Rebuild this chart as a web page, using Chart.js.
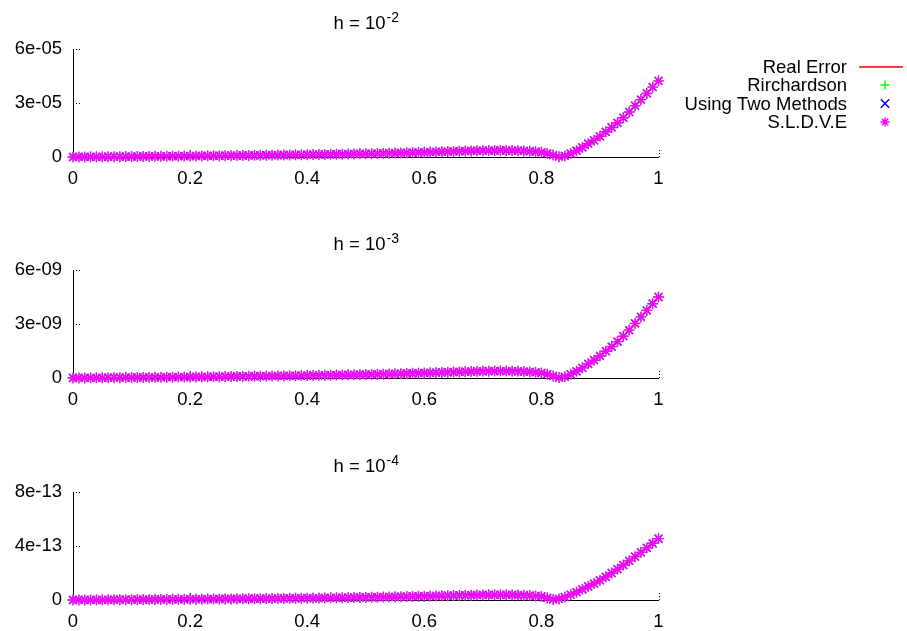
<!DOCTYPE html>
<html>
<head>
<meta charset="utf-8">
<script src="https://cdn.jsdelivr.net/npm/chart.js@4.4.0/dist/chart.umd.min.js"></script>
<style>
  html, body { margin: 0; padding: 0; background: #fff; }
  #wrap { position: relative; width: 907px; height: 631px; }
  #wrap canvas { position: absolute; left: 0; top: 0; }
</style>
</head>
<body>
<div id="wrap">
  <canvas id="c1" width="907" height="631"></canvas>
  <canvas id="c2" width="907" height="631"></canvas>
  <canvas id="c3" width="907" height="631"></canvas>
</div>
<script>
// grid points on [0, 1]
const xs = [
  0.00, 0.01, 0.02, 0.03, 0.04, 0.05, 0.06, 0.07, 0.08, 0.09, 0.10,
  0.11, 0.12, 0.13, 0.14, 0.15, 0.16, 0.17, 0.18, 0.19, 0.20,
  0.21, 0.22, 0.23, 0.24, 0.25, 0.26, 0.27, 0.28, 0.29, 0.30,
  0.31, 0.32, 0.33, 0.34, 0.35, 0.36, 0.37, 0.38, 0.39, 0.40,
  0.41, 0.42, 0.43, 0.44, 0.45, 0.46, 0.47, 0.48, 0.49, 0.50,
  0.51, 0.52, 0.53, 0.54, 0.55, 0.56, 0.57, 0.58, 0.59, 0.60,
  0.61, 0.62, 0.63, 0.64, 0.65, 0.66, 0.67, 0.68, 0.69, 0.70,
  0.71, 0.72, 0.73, 0.74, 0.75, 0.76, 0.77, 0.78, 0.79, 0.80,
  0.81, 0.82, 0.83, 0.84, 0.85, 0.86, 0.87, 0.88, 0.89, 0.90,
  0.91, 0.92, 0.93, 0.94, 0.95, 0.96, 0.97, 0.98, 0.99, 1.00
];

// error for h = 1e-2, in units of 1e-5
const errH2 = [
  0.000, 0.002, 0.004, 0.007, 0.009, 0.011, 0.014, 0.016, 0.019, 0.021, 0.024,
  0.027, 0.029, 0.032, 0.035, 0.038, 0.041, 0.044, 0.047, 0.050, 0.053,
  0.056, 0.059, 0.063, 0.066, 0.069, 0.073, 0.076, 0.080, 0.083, 0.087,
  0.091, 0.095, 0.099, 0.103, 0.107, 0.111, 0.115, 0.120, 0.124, 0.129,
  0.133, 0.138, 0.143, 0.148, 0.153, 0.158, 0.163, 0.168, 0.174, 0.179,
  0.185, 0.193, 0.201, 0.209, 0.217, 0.226, 0.235, 0.244, 0.253, 0.262,
  0.271, 0.281, 0.290, 0.300, 0.309, 0.318, 0.327, 0.335, 0.343, 0.350,
  0.356, 0.360, 0.362, 0.361, 0.357, 0.349, 0.336, 0.318, 0.294, 0.262,
  0.200, 0.110, 0.020, 0.060, 0.190, 0.350, 0.530, 0.740, 0.930, 1.150,
  1.400, 1.640, 1.900, 2.180, 2.500, 2.850, 3.190, 3.530, 3.880, 4.230
];

// error for h = 1e-3, in units of 1e-9
const errH3 = [
  0.000, 0.002, 0.004, 0.007, 0.010, 0.012, 0.015, 0.017, 0.020, 0.023, 0.026,
  0.029, 0.031, 0.034, 0.037, 0.040, 0.044, 0.047, 0.050, 0.053, 0.056,
  0.060, 0.063, 0.067, 0.070, 0.074, 0.078, 0.081, 0.085, 0.089, 0.093,
  0.097, 0.101, 0.105, 0.110, 0.114, 0.118, 0.123, 0.128, 0.132, 0.137,
  0.142, 0.147, 0.152, 0.157, 0.163, 0.168, 0.174, 0.179, 0.185, 0.191,
  0.197, 0.205, 0.214, 0.222, 0.231, 0.240, 0.250, 0.260, 0.269, 0.279,
  0.289, 0.299, 0.309, 0.319, 0.329, 0.338, 0.348, 0.357, 0.365, 0.372,
  0.379, 0.383, 0.385, 0.384, 0.380, 0.371, 0.357, 0.338, 0.313, 0.279,
  0.213, 0.117, 0.021, 0.064, 0.202, 0.372, 0.564, 0.787, 0.990, 1.224,
  1.490, 1.745, 2.022, 2.320, 2.660, 3.032, 3.394, 3.756, 4.128, 4.500
];

// error for h = 1e-4, in units of 1e-13
const errH4 = [
  0.000, 0.002, 0.005, 0.007, 0.010, 0.012, 0.015, 0.018, 0.020, 0.023, 0.026,
  0.029, 0.032, 0.035, 0.038, 0.041, 0.044, 0.047, 0.050, 0.054, 0.057,
  0.060, 0.064, 0.067, 0.071, 0.074, 0.078, 0.082, 0.086, 0.089, 0.093,
  0.097, 0.101, 0.106, 0.110, 0.114, 0.119, 0.123, 0.128, 0.133, 0.138,
  0.142, 0.147, 0.153, 0.158, 0.163, 0.169, 0.174, 0.180, 0.186, 0.192,
  0.198, 0.206, 0.215, 0.224, 0.233, 0.242, 0.252, 0.262, 0.271, 0.281,
  0.291, 0.301, 0.311, 0.321, 0.331, 0.341, 0.350, 0.359, 0.367, 0.374,
  0.380, 0.384, 0.385, 0.383, 0.377, 0.367, 0.352, 0.331, 0.304, 0.260,
  0.150, 0.040, 0.080, 0.220, 0.390, 0.580, 0.790, 1.000, 1.220, 1.450,
  1.720, 2.000, 2.290, 2.590, 2.900, 3.210, 3.530, 3.860, 4.200, 4.550
];

const xTicks = [0, 0.2, 0.4, 0.6, 0.8, 1];
const xLabels = ['0', '0.2', '0.4', '0.6', '0.8', '1'];

const yTicksH2 = [0, 3e-5, 6e-5];
const yLabelsH2 = ['0', '3e-05', '6e-05'];
const yTicksH3 = [0, 3e-9, 6e-9];
const yLabelsH3 = ['0', '3e-09', '6e-09'];
const yTicksH4 = [0, 4e-13, 8e-13];
const yLabelsH4 = ['0', '4e-13', '8e-13'];

const seriesNames = ['Real Error', 'Rirchardson', 'Using Two Methods', 'S.L.D.V.E'];
const seriesColors = ['#ff0000', '#00ff00', '#0000ff', '#ff00ff'];
const seriesMarks = [false, 'cross', 'crossRot', 'star'];
// crossRot arms are shorter, so it gets a larger radius in the key
const markRadius = [0, 5, 5.5, 5.5];
const keyRadius = [0, 4.5, 6, 4.5];

const FONT = '"Liberation Sans", Arial, sans-serif';
const FS = 18.5;
const W = 907, H = 631;
const LEFT = 73, RIGHT = 658.5;

// short inward tic marks, dotted like the axes
const ticMarks = {
  id: 'ticMarks',
  beforeDatasetsDraw(chart) {
    const { ctx, chartArea: a, scales: { x, y } } = chart;
    ctx.save();
    ctx.strokeStyle = '#000';
    ctx.lineWidth = 1;
    ctx.setLineDash([1, 2]);
    ctx.beginPath();
    y.ticks.forEach(t => {
      const py = Math.round(y.getPixelForValue(t.value)) + 0.5;
      ctx.moveTo(a.left, py);
      ctx.lineTo(a.left + 9, py);
    });
    x.ticks.forEach(t => {
      const px = Math.round(x.getPixelForValue(t.value)) + 0.5;
      ctx.moveTo(px, a.bottom);
      ctx.lineTo(px, a.bottom - 9);
    });
    ctx.stroke();
    ctx.restore();
  }
};

// "h = 10^-n" above each panel
const hTitle = {
  id: 'hTitle',
  afterDraw(chart, args, opts) {
    const { ctx, chartArea: a } = chart;
    const main = 'h = 10';
    ctx.save();
    ctx.fillStyle = '#000';
    ctx.textBaseline = 'alphabetic';
    ctx.textAlign = 'left';
    ctx.font = FS + 'px ' + FONT;
    const w1 = ctx.measureText(main).width;
    ctx.font = '14px ' + FONT;
    const w2 = ctx.measureText(opts.exp).width;
    const x0 = (a.left + a.right) / 2 - (w1 + w2) / 2;
    const yb = a.top - 20.5;
    ctx.font = FS + 'px ' + FONT;
    ctx.fillText(main, x0, yb);
    ctx.font = '14px ' + FONT;
    ctx.fillText(opts.exp, x0 + w1 + 1, yb - 7);
    ctx.restore();
  }
};

// key in the top right corner: text right-aligned, sample to its right
const keyBox = {
  id: 'keyBox',
  afterDraw(chart, args, opts) {
    if (!opts.show) return;
    const { ctx } = chart;
    ctx.save();
    ctx.font = FS + 'px ' + FONT;
    ctx.textAlign = 'right';
    ctx.textBaseline = 'middle';
    seriesNames.forEach((name, i) => {
      const yy = 66.5 + i * 18.5;
      ctx.fillStyle = '#000';
      ctx.fillText(name, 847, yy + 1);
      ctx.strokeStyle = seriesColors[i];
      ctx.lineWidth = 1.5;
      if (!seriesMarks[i]) {
        ctx.beginPath();
        ctx.moveTo(859, Math.round(yy));
        ctx.lineTo(903, Math.round(yy));
        ctx.stroke();
      } else {
        Chart.helpers.drawPoint(ctx, {
          pointStyle: seriesMarks[i], radius: keyRadius[i], rotation: 0, borderWidth: 1.2
        }, 885, yy);
      }
    });
    ctx.restore();
  }
};

function makeSeries(err, unit) {
  const pts = xs.map((x, i) => ({ x: x, y: err[i] * unit }));
  return seriesNames.map((name, k) => ({
    label: name,
    data: pts,
    borderColor: seriesColors[k],
    backgroundColor: seriesColors[k],
    borderWidth: 1.5,
    showLine: k === 0,
    pointStyle: seriesMarks[k],
    pointRadius: markRadius[k],
    pointBorderWidth: 1.4,
    order: 3 - k,
    clip: false
  }));
}

function makePanel(id, err, unit, yTicks, yLabels, exp, top, bottom, showKey) {
  const ctx = document.getElementById(id).getContext('2d');
  return new Chart(ctx, {
    type: 'scatter',
    data: { datasets: makeSeries(err, unit) },
    options: {
      responsive: false,
      animation: false,
      events: [],
      layout: {
        padding: { left: 0, right: W - RIGHT, top: top, bottom: H - bottom - 30 }
      },
      plugins: {
        legend: { display: false },
        tooltip: { enabled: false },
        hTitle: { exp: exp },
        keyBox: { show: showKey }
      },
      scales: {
        x: {
          type: 'linear',
          min: 0,
          max: 1,
          afterBuildTicks: s => { s.ticks = xTicks.map(v => ({ value: v })); },
          afterFit: s => { s.height = 30; },
          grid: { display: false, drawTicks: false },
          border: { display: true, color: '#000', width: 1, dash: [1, 2] },
          ticks: {
            color: '#000',
            padding: 11,
            maxRotation: 0,
            font: { family: FONT, size: FS },
            callback: (v, i) => xLabels[i]
          }
        },
        y: {
          type: 'linear',
          min: yTicks[0],
          max: yTicks[yTicks.length - 1],
          afterBuildTicks: s => { s.ticks = yTicks.map(v => ({ value: v })); },
          afterFit: s => { s.width = LEFT; },
          grid: { display: false, drawTicks: false },
          border: { display: true, color: '#000', width: 1, dash: [1, 2] },
          ticks: {
            color: '#000',
            padding: 11,
            font: { family: FONT, size: FS },
            callback: (v, i) => yLabels[i]
          }
        }
      }
    },
    plugins: [ticMarks, hTitle, keyBox]
  });
}

makePanel('c1', errH2, 1e-5, yTicksH2, yLabelsH2, '-2', 49, 157, true);
makePanel('c2', errH3, 1e-9, yTicksH3, yLabelsH3, '-3', 270, 378, false);
makePanel('c3', errH4, 1e-13, yTicksH4, yLabelsH4, '-4', 492, 600, false);
</script>
</body>
</html>
